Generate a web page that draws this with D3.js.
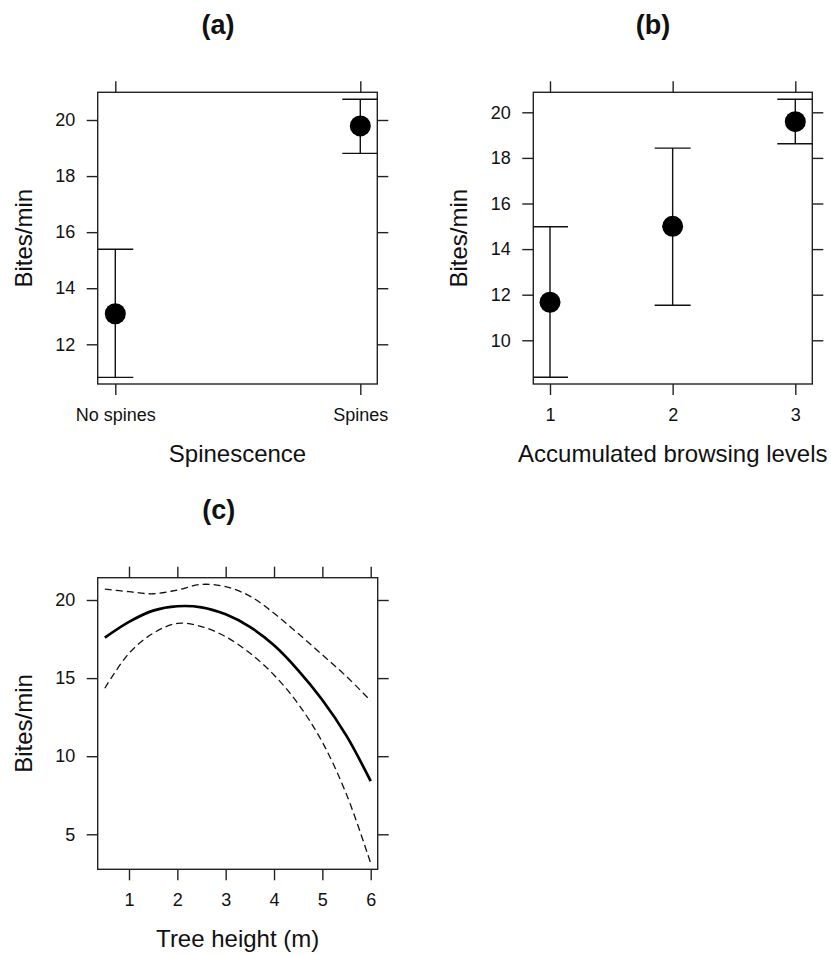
<!DOCTYPE html>
<html>
<head>
<meta charset="utf-8">
<script src="https://cdn.jsdelivr.net/npm/d3@7"></script>
<style>
  body { margin: 0; background: #fff; }
  text { font-family: "Liberation Sans", Arial, sans-serif; fill: #111; }
</style>
</head>
<body>
<svg id="chart" width="831" height="954"></svg>
<script>
// (a) spinescence
const spineCats = ["No spines", "Spines"];
const spineMean = [13.09, 19.79];
const spineLow = [10.82, 18.81];
const spineHigh = [15.39, 20.74];
const spineTicks = [12, 14, 16, 18, 20];

// (b) accumulated browsing
const browseLevels = [1, 2, 3];
const browseMean = [11.67, 15.0, 19.59];
const browseLow = [8.38, 11.54, 18.62];
const browseHigh = [14.98, 18.43, 20.57];
const browseTicks = [10, 12, 14, 16, 18, 20];

// (c) tree height smooth + band
const heightX = [0.5, 1, 1.5, 2, 2.5, 3, 3.5, 4, 4.5, 5, 5.5, 6];
const fitMid = [17.59, 18.6, 19.32, 19.6, 19.53, 19.08, 18.28, 17.1, 15.5, 13.6, 11.3, 8.4];
const fitUpper = [20.7, 20.53, 20.4, 20.64, 21.0, 20.85, 20.25, 19.15, 17.85, 16.49, 15.1, 13.55];
const fitLower = [14.35, 16.59, 17.87, 18.5, 18.3, 17.65, 16.6, 15.2, 13.35, 10.9, 7.55, 3.15];
const heightTicksX = [1, 2, 3, 4, 5, 6];
const heightTicksY = [5, 10, 15, 20];

var svg = d3.select("#chart");
var tick = 11;
var capHalf = 18;

function panel(p) {
  var g = svg.append("g");

  g.append("clipPath").attr("id", p.id + "-clip")
    .append("rect")
    .attr("x", p.box.x0).attr("y", p.box.y0)
    .attr("width", p.box.x1 - p.box.x0).attr("height", p.box.y1 - p.box.y0);

  // axes on four sides, labels only left/bottom
  var xl = d3.axisBottom(p.x).tickValues(p.xTicks).tickSize(tick).tickPadding(13).tickSizeOuter(0);
  if (p.xFormat) xl.tickFormat(p.xFormat);
  g.append("g").attr("transform", "translate(0," + p.box.y1 + ")").call(xl);
  g.append("g").attr("transform", "translate(0," + p.box.y0 + ")")
    .call(d3.axisTop(p.x).tickValues(p.xTicks).tickSize(tick).tickFormat("").tickSizeOuter(0));
  g.append("g").attr("transform", "translate(" + p.box.x0 + ",0)")
    .call(d3.axisLeft(p.y).tickValues(p.yTicks).tickSize(tick).tickPadding(11.5).tickSizeOuter(0));
  g.append("g").attr("transform", "translate(" + p.box.x1 + ",0)")
    .call(d3.axisRight(p.y).tickValues(p.yTicks).tickSize(tick).tickFormat("").tickSizeOuter(0));

  g.selectAll(".domain").remove();
  g.selectAll(".tick line").attr("stroke", "#222").attr("stroke-width", 1.4);
  g.selectAll(".tick text").attr("font-size", 18).attr("fill", "#111")
    .style("font-family", '"Liberation Sans", Arial, sans-serif');

  g.append("rect")
    .attr("x", p.box.x0).attr("y", p.box.y0)
    .attr("width", p.box.x1 - p.box.x0).attr("height", p.box.y1 - p.box.y0)
    .attr("fill", "none").attr("stroke", "#222").attr("stroke-width", 1.4);

  g.append("text")
    .attr("x", p.titleX).attr("y", p.titleY)
    .attr("text-anchor", "middle").attr("font-size", 27).attr("font-weight", "bold")
    .text(p.title);

  g.append("text")
    .attr("x", (p.box.x0 + p.box.x1) / 2).attr("y", p.box.y1 + 78)
    .attr("text-anchor", "middle").attr("font-size", 24)
    .text(p.xLabel);

  g.append("text")
    .attr("transform", "translate(" + p.yLabelX + "," + ((p.box.y0 + p.box.y1) / 2) + ") rotate(-90)")
    .attr("text-anchor", "middle").attr("font-size", 24)
    .text("Bites/min");

  return g;
}

function errorPoints(g, p, cats, mean, low, high) {
  var pts = cats.map((c, i) => ({c: c, m: mean[i], lo: low[i], hi: high[i]}));
  var inner = g.append("g").attr("clip-path", "url(#" + p.id + "-clip)");
  var stroke = "#111";

  inner.selectAll("line.bar").data(pts).enter().append("line")
    .attr("x1", d => p.x(d.c)).attr("x2", d => p.x(d.c))
    .attr("y1", d => p.y(d.lo)).attr("y2", d => p.y(d.hi))
    .attr("stroke", stroke).attr("stroke-width", 1.4);

  ["lo", "hi"].forEach(function(k) {
    inner.selectAll("line.cap-" + k).data(pts).enter().append("line")
      .attr("x1", d => p.x(d.c) - capHalf).attr("x2", d => p.x(d.c) + capHalf)
      .attr("y1", d => p.y(d[k])).attr("y2", d => p.y(d[k]))
      .attr("stroke", stroke).attr("stroke-width", 1.4);
  });

  inner.selectAll("circle").data(pts).enter().append("circle")
    .attr("cx", d => p.x(d.c)).attr("cy", d => p.y(d.m))
    .attr("r", 10.5).attr("fill", "#000");
}

// panel a
var pa = {
  id: "pa", title: "(a)", titleX: 218, titleY: 34,
  box: {x0: 97.7, x1: 377.3, y0: 92.3, y1: 384},
  x: d3.scalePoint().domain(spineCats).range([115.3, 360.3]),
  y: d3.scaleLinear().domain([12, 20]).range([344.3, 120]),
  xTicks: spineCats, yTicks: spineTicks,
  xLabel: "Spinescence", yLabelX: 32
};
var ga = panel(pa);
errorPoints(ga, pa, spineCats, spineMean, spineLow, spineHigh);

// panel b
var pb = {
  id: "pb", title: "(b)", titleX: 653, titleY: 34,
  box: {x0: 533.3, x1: 812.3, y0: 92.3, y1: 384},
  x: d3.scaleLinear().domain([1, 3]).range([550, 795.3]),
  y: d3.scaleLinear().domain([10, 20]).range([340.3, 112.3]),
  xTicks: browseLevels, yTicks: browseTicks, xFormat: d3.format("d"),
  xLabel: "Accumulated browsing levels", yLabelX: 467
};
var gb = panel(pb);
errorPoints(gb, pb, browseLevels, browseMean, browseLow, browseHigh);

// panel c
var pc = {
  id: "pc", title: "(c)", titleX: 218.7, titleY: 519,
  box: {x0: 97.7, x1: 377.7, y0: 577.7, y1: 869.3},
  x: d3.scaleLinear().domain([1, 6]).range([129, 370.7]),
  y: d3.scaleLinear().domain([5, 20]).range([834.3, 600]),
  xTicks: heightTicksX, yTicks: heightTicksY, xFormat: d3.format("d"),
  xLabel: "Tree height (m)", yLabelX: 32
};
var gc = panel(pc);

var curve = (vals) => d3.line()
  .x((d, i) => pc.x(heightX[i]))
  .y(d => pc.y(d))
  .curve(d3.curveCatmullRom.alpha(0.5))(vals);

gc.append("path").attr("d", curve(fitUpper))
  .attr("fill", "none").attr("stroke", "#111").attr("stroke-width", 1.3).attr("stroke-dasharray", "7,4");
gc.append("path").attr("d", curve(fitLower))
  .attr("fill", "none").attr("stroke", "#111").attr("stroke-width", 1.3).attr("stroke-dasharray", "7,4");
gc.append("path").attr("d", curve(fitMid))
  .attr("fill", "none").attr("stroke", "#000").attr("stroke-width", 2.7);
</script>
</body>
</html>
